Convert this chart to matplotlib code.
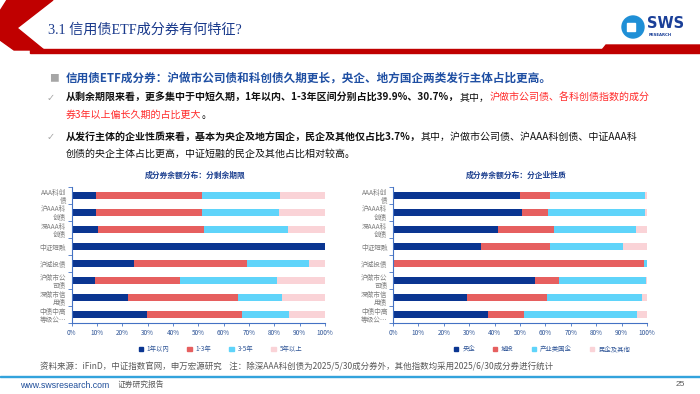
import matplotlib
matplotlib.use("Agg")
import matplotlib.pyplot as plt
import numpy as np
from matplotlib.patches import Polygon, Rectangle, Patch, Ellipse

plt.rcParams['font.family'] = ['Noto Sans CJK SC', 'DejaVu Sans']

# 数据
cats = ['AAA科创\n债', '沪AAA科\n创债', '深AAA科\n创债', '中证短融', '沪城投债',
        '沪做市公\n司债', '深做市信\n用债', '中债中高\n等级公…']

term_labels = ['1年以内', '1-3年', '3-5年', '5年以上']
term_1y = [9.5, 9.7, 10.4, 100, 24.7, 9.2, 22.2, 29.7]
term_1_3 = [41.8, 41.9, 41.8, 0, 44.4, 33.7, 43.3, 37.4]
term_3_5 = [30.8, 30.1, 33.1, 0, 24.5, 38.3, 17.4, 18.6]
term_5y = [17.9, 18.3, 14.7, 0, 6.4, 18.8, 17.1, 14.3]

own_labels = ['央企', '城投', '产业类国企', '民企及其他']
own_central = [49.9, 50.9, 41.5, 34.6, 0.1, 55.8, 29.2, 37.5]
own_lgfv = [11.9, 10.2, 21.7, 27.4, 98.6, 9.6, 31.5, 13.9]
own_soe = [37.3, 38.0, 32.6, 28.5, 1.3, 34.2, 37.5, 44.5]
own_private = [0.9, 0.9, 4.2, 9.5, 0.0, 0.4, 1.8, 4.1]

colors = ['#0a3591', '#e65f5f', '#5fd4fa', '#fad3d7']
navy = '#1c3f8f'

W, H = 700, 394
fig = plt.figure(figsize=(7, 3.94), dpi=100)


def fx(x):
    return x / W


def fy(y):
    return 1 - y / H


# 顶部标题栏
fig.patches.append(Polygon([(fx(7), fy(0)), (fx(53), fy(0)), (fx(17), fy(28)), (fx(44), fy(50)),
                            (fx(14), fy(50)), (fx(0), fy(40)), (fx(0), fy(11))],
                           closed=True, transform=fig.transFigure, color='#c00000', zorder=1))
fig.patches.append(Rectangle((fx(30), fy(52.5)), fx(670), 3.5 / H, transform=fig.transFigure,
                             color='#c00000', zorder=1))
fig.patches.append(Polygon([(fx(600), fy(52.5)), (fx(606), fy(45)), (fx(700), fy(45)), (fx(700), fy(52.5))],
                           closed=True, transform=fig.transFigure, color='#c00000', zorder=1))
fig.text(fx(48), fy(30), '3.1 信用债ETF成分券有何特征?', fontsize=10.2, color='#1a3a8c',
         family=['Liberation Serif', 'Noto Sans CJK SC'], va='center')

# logo
fig.patches.append(Ellipse((fx(633), fy(27)), 22 / W, 22 / H, transform=fig.transFigure,
                           color='#1f8fd6', zorder=2))
fig.patches.append(Rectangle((fx(627), fy(31)), 8 / W, 8 / H, transform=fig.transFigure,
                             color='white', zorder=3))
fig.text(fx(647), fy(24), 'SWS', fontsize=10.5, fontweight='bold', color='#1a3f98', va='center',
         family='DejaVu Sans')
fig.text(fx(649), fy(35), 'RESEARCH', fontsize=2.8, fontweight='bold', color='#1a3f98', va='center',
         family='DejaVu Sans')

renderer = fig.canvas.get_renderer()


def seg_line(x, y, segs, size):
    for s, c, w in segs:
        t = fig.text(fx(x), fy(y), s, fontsize=size, color=c, fontweight=w, va='center')
        x += t.get_window_extent(renderer=renderer).width


black = '#111111'
red = '#ff2b2b'
fig.text(fx(49), fy(78), '■', fontsize=7, color='#a6a6a6', va='center')
seg_line(66, 78, [('信用债ETF成分券：沪做市公司债和科创债久期更长，央企、地方国企两类发行主体占比更高。',
                   '#1f4fa3', 'bold')], 8.35)

fig.text(fx(47), fy(98), '✓', fontsize=7, color='#a6a6a6', va='center', family='DejaVu Sans')
seg_line(66, 98, [('从剩余期限来看，更多集中于中短久期，1年以内、1-3年区间分别占比39.9%、30.7%，', black, 'bold'),
                  ('其中，', black, 'normal'),
                  ('沪做市公司债、各科创债指数的成分', red, 'normal')], 7.2)
seg_line(66, 115, [('券3年以上偏长久期的占比更大', red, 'normal'), ('。', black, 'normal')], 7.2)

fig.text(fx(47), fy(137), '✓', fontsize=7, color='#a6a6a6', va='center', family='DejaVu Sans')
seg_line(66, 137, [('从发行主体的企业性质来看，基本为央企及地方国企，民企及其他仅占比3.7%，', black, 'bold'),
                   ('其中，沪做市公司债、沪AAA科创债、中证AAA科', black, 'normal')], 7.2)
seg_line(66, 154, [('创债的央企主体占比更高，中证短融的民企及其他占比相对较高。', black, 'normal')], 7.2)


def draw_chart(x0, x1, title, series, labels):
    ax = fig.add_axes([fx(x0), fy(323), (x1 - x0) / W, (323 - 187) / H])
    y = np.arange(len(cats))
    left = np.zeros(len(cats))
    for vals, c, lab in zip(series, colors, labels):
        vals = np.array(vals)
        ax.barh(y, vals, left=left, height=0.45, color=c, label=lab)
        left += vals
    ax.set_xlim(0, 100)
    ax.set_ylim(len(cats) - 0.5, -0.5)
    ax.set_yticks(y)
    ax.set_yticklabels(cats, fontsize=4.8, color='#7f7f7f', linespacing=1.15)
    ax.set_yticks(np.arange(-0.5, len(cats), 1), minor=True)
    ax.tick_params(axis='y', which='major', length=0, pad=4)
    ax.tick_params(axis='y', which='minor', length=3, color='#4472c4', width=0.6)
    ax.set_xticks(np.arange(0, 101, 10))
    ax.set_xticklabels([f'{v}%' for v in range(0, 101, 10)], fontsize=4.6, color='#2f5597')
    ax.tick_params(axis='x', length=2.5, color='#4472c4', width=0.6, pad=2)
    for s in ['top', 'right']:
        ax.spines[s].set_visible(False)
    for s in ['left', 'bottom']:
        ax.spines[s].set_color('#4472c4')
        ax.spines[s].set_linewidth(0.8)
    fig.text(ax.get_position().x0 + ax.get_position().width / 2 - 0.005, fy(175), title,
             fontsize=5.6, fontweight='bold', color=navy, ha='center', va='center')
    handles = [Patch(color=c) for c in colors]
    ax.legend(handles, labels, loc='center',
              bbox_to_anchor=(0.5 + 22 / (x1 - x0), (323 - 349) / (323 - 187)),
              ncol=4, frameon=False, fontsize=4.6, handlelength=0.7, handleheight=0.7,
              handletextpad=0.6, columnspacing=2.8, labelcolor='#2f5597')
    return ax


draw_chart(71.7, 325, '成分券余额分布：分剩余期限', [term_1y, term_1_3, term_3_5, term_5y], term_labels)
draw_chart(393, 647, '成分券余额分布：分企业性质', [own_central, own_lgfv, own_soe, own_private], own_labels)

# 底部
fig.text(fx(40), fy(367), '资料来源：iFinD，中证指数官网，申万宏源研究    注：除深AAA科创债为2025/5/30成分券外，'
         '其他指数均采用2025/6/30成分券进行统计', fontsize=6.1, color='#595959', va='center')
fig.patches.append(Rectangle((0, fy(377)), 1, 1.5 / H, transform=fig.transFigure, color='#33a3dc'))
fig.text(fx(20), fy(385), 'www.swsresearch.com', fontsize=6.3, color='#1f4e9a', va='center',
         family='Liberation Sans')
fig.text(fx(118), fy(385), '证券研究报告', fontsize=5.6, color='#595959', va='center')
fig.text(fx(676), fy(385), '25', fontsize=6, color='#595959', va='center', family='Liberation Sans')

fig.savefig('out.png', dpi=100)
